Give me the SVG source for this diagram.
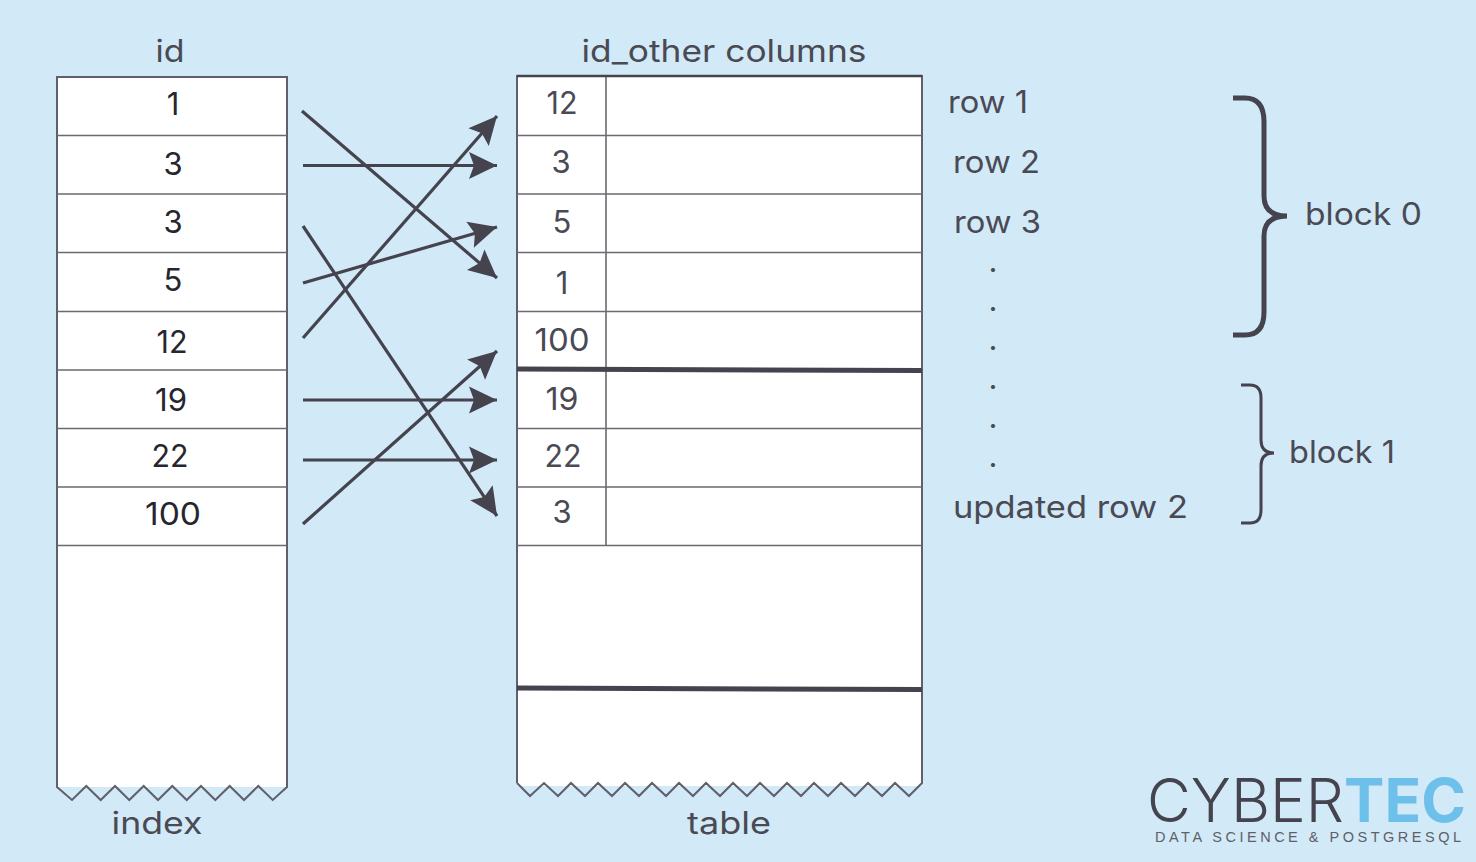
<svg xmlns="http://www.w3.org/2000/svg" width="1476" height="862" viewBox="0 0 1476 862">
<style>
.t{font-family:"Inter","Liberation Sans",sans-serif;font-size:31px;fill:#4a4a54;text-anchor:middle;font-weight:400}
.l{text-anchor:start}
.n{fill:#26262e}
.b{fill:#fff;stroke:none}
.o{fill:none;stroke:#60606a;stroke-width:2}
.r{fill:none;stroke:#6a6a72;stroke-width:1.6}
.h{fill:none;stroke:#45434d;stroke-width:5}
.c{fill:none;stroke:#45434d;stroke-width:3.2;marker-end:url(#a)}
.br{fill:none;stroke:#45434d;stroke-linecap:butt}
</style>
<defs>
<marker id="a" markerUnits="userSpaceOnUse" markerWidth="34" markerHeight="30" refX="28" refY="13.500" orient="auto" overflow="visible"><path d="M0 0L28 13.500L0 27L5 13.500Z" fill="#45434d"/></marker>
</defs>
<rect width="1476" height="862" fill="#d2e9f8"/>
<g id="index">
<rect class="b" x="57" y="77" width="230" height="710"/>
<path class="o" d="M57 77H287V787L272.700 800L258.300 786L244 800L229.700 786L215.300 800L201 786L186.700 800L172.300 786L158 800L143.700 786L129.300 800L115 786L100.700 800L86.300 786L72 800L57 787Z"/>
<path class="r" d="M57 135.500H287M57 194H287M57 252.500H287M57 311.500H287M57 370H287M57 428.500H287M57 487H287M57 545.500H287"/>
<text class="t" x="170" y="62" textLength="29" lengthAdjust="spacingAndGlyphs">id</text>
<text class="t n" x="173" y="115">1</text>
<text class="t n" x="173" y="175">3</text>
<text class="t n" x="173" y="233">3</text>
<text class="t n" x="173" y="291">5</text>
<text class="t n" x="172" y="353" textLength="31" lengthAdjust="spacingAndGlyphs">12</text>
<text class="t n" x="171" y="411" textLength="32" lengthAdjust="spacingAndGlyphs">19</text>
<text class="t n" x="170" y="467" textLength="37" lengthAdjust="spacingAndGlyphs">22</text>
<text class="t n" x="173" y="525" textLength="56" lengthAdjust="spacingAndGlyphs">100</text>
<text class="t" x="157" y="834" textLength="91" lengthAdjust="spacingAndGlyphs">index</text>
</g>
<g id="table">
<rect class="b" x="517" y="76" width="405" height="710"/>
<path class="o" d="M517 783V76H922V783L909 796L895 783L882 796L868 783L855 796L841 783L828 796L814 783L801 796L787 783L774 796L760 783L747 796L733 783L720 796L706 783L693 796L679 783L666 796L652 783L639 796L625 783L612 796L598 783L585 796L571 783L558 796L544 783L530 796L517 783"/>
<path class="r" d="M517 135.500H922M517 194H922M517 252.500H922M517 311.500H922M517 428.500H922M517 487H922M517 545.500H922M606 76V545"/>
<path class="h" d="M517 369L922 370.500M517 688L922 689.500"/>
<path d="M517 76H922" stroke="#45434d" stroke-width="2.500" fill="none"/>
<text class="t" x="724" y="62" textLength="285" lengthAdjust="spacingAndGlyphs">id_other columns</text>
<text class="t" x="562" y="114" textLength="31" lengthAdjust="spacingAndGlyphs">12</text>
<text class="t" x="561" y="173">3</text>
<text class="t" x="562" y="233">5</text>
<text class="t" x="562" y="294">1</text>
<text class="t" x="562" y="351" textLength="55" lengthAdjust="spacingAndGlyphs">100</text>
<text class="t" x="562" y="410" textLength="33" lengthAdjust="spacingAndGlyphs">19</text>
<text class="t" x="563" y="467" textLength="37" lengthAdjust="spacingAndGlyphs">22</text>
<text class="t" x="562" y="523">3</text>
<text class="t" x="729" y="834" textLength="84" lengthAdjust="spacingAndGlyphs">table</text>
</g>
<g id="connectors">
<path class="c" d="M302 111L497 278"/>
<path class="c" d="M303 165.500H497"/>
<path class="c" d="M303 283L497 227"/>
<path class="c" d="M303 338L497 116"/>
<path class="c" d="M303 226L497 516"/>
<path class="c" d="M303 400H497"/>
<path class="c" d="M303 460H497"/>
<path class="c" d="M303 524L497 351"/>
</g>
<g id="labels">
<text class="t l" x="948" y="113" textLength="80" lengthAdjust="spacingAndGlyphs">row 1</text>
<text class="t l" x="953" y="173" textLength="87" lengthAdjust="spacingAndGlyphs">row 2</text>
<text class="t l" x="954" y="233" textLength="87" lengthAdjust="spacingAndGlyphs">row 3</text>
<text class="t" x="993" y="272">.</text>
<text class="t" x="993" y="311">.</text>
<text class="t" x="993" y="350">.</text>
<text class="t" x="993" y="389">.</text>
<text class="t" x="993" y="428">.</text>
<text class="t" x="993" y="467">.</text>
<text class="t l" x="953" y="518" textLength="235" lengthAdjust="spacingAndGlyphs">updated row 2</text>
</g>
<g id="block0">
<path class="br" stroke-width="5" d="M1233 98H1245Q1264 98 1264 122V196Q1264 216 1287 216Q1264 216 1264 236V312Q1264 335 1245 335H1233"/>
<text class="t l" x="1305" y="225" textLength="117" lengthAdjust="spacingAndGlyphs">block 0</text>
</g>
<g id="block1">
<path class="br" stroke-width="3" d="M1241 385H1250Q1261 385 1261 398V440Q1261 453 1274 453Q1261 453 1261 466V510Q1261 523 1250 523H1241"/>
<text class="t l" x="1289" y="463" textLength="106" lengthAdjust="spacingAndGlyphs">block 1</text>
</g>
<g id="logo">
<text x="1147" y="822" font-family="Inter,'Liberation Sans',sans-serif" font-size="61" font-weight="300" fill="#45434d" textLength="197" lengthAdjust="spacingAndGlyphs">CYBER</text>
<text x="1344" y="822" font-family="Inter,'Liberation Sans',sans-serif" font-size="61" font-weight="700" fill="#6dc0ea" textLength="122" lengthAdjust="spacingAndGlyphs">TEC</text>
<text x="1155" y="842" font-family="'Liberation Sans',sans-serif" font-size="14.500" fill="#5e5f68" textLength="306">DATA SCIENCE &amp; POSTGRESQL</text>
</g>
</svg>
